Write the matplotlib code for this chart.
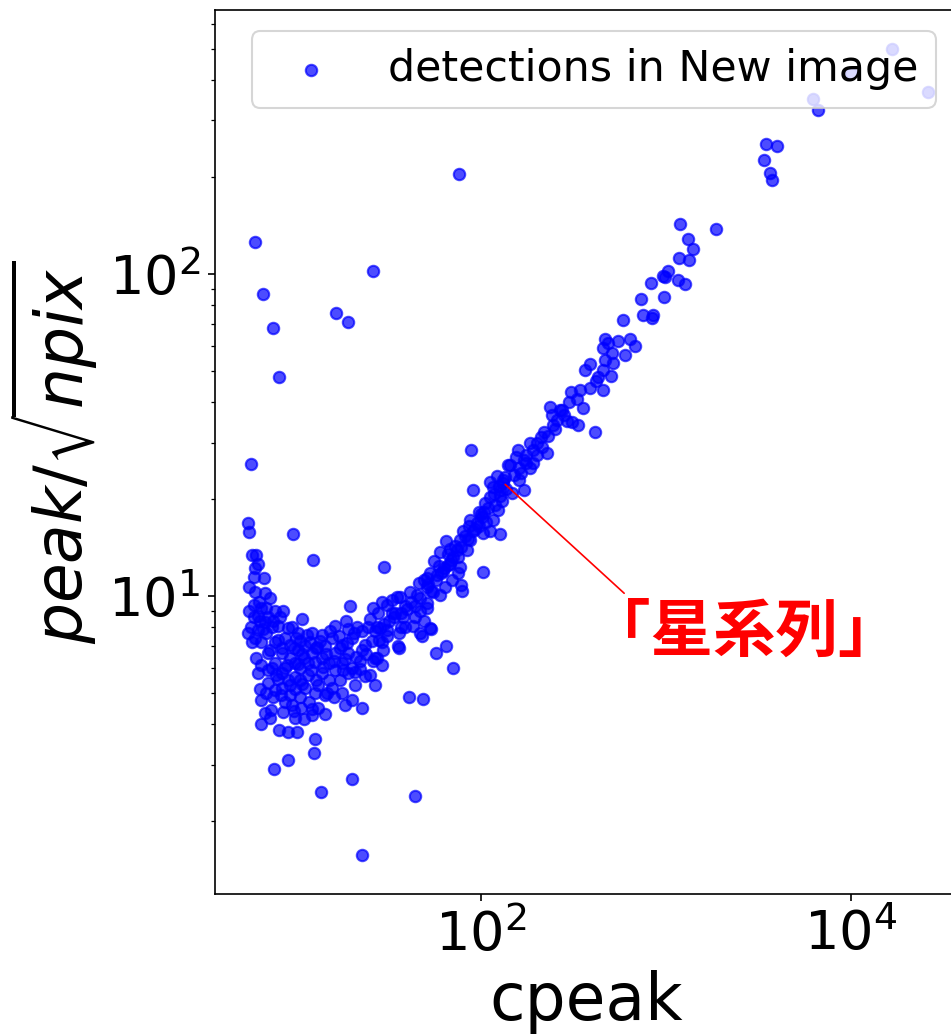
import matplotlib
matplotlib.use("Agg")
import matplotlib.pyplot as plt
from matplotlib.ticker import FixedLocator, NullLocator

# ---- data (cpeak, peak/sqrt(npix)) ----
outl_x = [6.0, 6.6, 7.5, 8.1, 16.5, 19, 26, 76, 5.7, 88, 90.5, 30, 9.6, 12.4, 5.5, 5.6]
outl_y = [126, 87, 68, 48, 76, 71, 102, 205, 25.7, 28.4, 21.3, 12.3, 15.6, 13.0, 16.9, 15.8]

low_x = [5.8, 6.1, 6.2, 6.0, 5.9, 6.7, 5.6, 6.0, 6.8, 7.2, 5.9, 6.5, 7.7, 8.5, 10.8, 7.1, 6.4, 5.7, 7.4,
         12.2, 16.3, 18.6, 10.0, 15.7, 8.7, 6.0, 5.8, 6.5, 7.7, 11.2, 13.0, 14.4, 17.7, 20.2, 22.7, 25,
         26, 29, 27.8, 24.5,
         6.1, 7.1, 8.4, 10.3, 12.2, 13.8, 16.3, 19.1, 22.7, 26.8, 29, 9.9, 11.6, 17.7, 20,
         6.2, 7.1, 8.4, 9.9, 11.6, 13.8, 16.3, 19.1, 7.1, 8.4, 9.9, 11.2, 12.7, 15.7, 17.7, 20.9,
         6.5, 7.5, 8.7, 9.5, 10.7, 12.2, 13.2, 16, 20.2, 22.7, 8.5, 9.9, 12.2, 7.2, 6.5, 8.1, 9.1,
         10.1, 12.7, 12.5, 7.6, 9.1, 13.7, 20.2, 44, 22.7, 41, 48.6,
         5.6, 6.2, 6.8, 6.2, 6.9, 8.0, 9.0, 8.0, 9.3, 10.5, 11.9, 13.5, 7.2, 9.3, 11, 12.7, 15, 6.5,
         7.7, 8.7, 10.5, 12.9, 15, 17.3, 8.0, 9.0, 10.5, 6.4, 7.7, 9.3, 10.5, 14.4, 18.4, 14.4, 20.9,
         23.7, 22.2, 25.2, 26.8, 26, 22.2, 23.7, 25.6, 31, 28.5, 26.8, 21.5, 20.5, 18.8, 17.3, 29, 36,
         35.5, 19.6,
         6.3, 6.9, 7.5, 8.2, 9.5, 10.2, 11.5, 13.8, 15.3, 17, 19, 8.4, 9.7, 10.8, 12.8, 14.6, 16, 18.5,
         21, 24, 7.4, 8.9, 10.2, 12, 14, 18, 7.8, 9.3, 10.8, 13.2, 14.8, 6.9, 8.3, 11.7, 7.3, 9.7, 11,
         6.8, 5.9, 5.5, 6.6]
low_y = [13.4, 13.4, 12.6, 12.2, 11.5, 11.4, 10.7, 10.3, 10.2, 9.9, 9.4, 9.2, 9.0, 9.0, 8.5, 8.6, 8.4, 8.0, 8.0,
         7.7, 8.1, 8.4, 7.4, 7.4, 7.4, 7.4, 7.2, 7.2, 7.2, 7.0, 6.95, 7.0, 7.05, 7.4, 7.8, 8.5,
         9.2, 9.6, 8.85, 8.0,
         6.45, 6.65, 6.65, 6.8, 6.65, 6.45, 6.65, 6.65, 6.8, 6.45, 7.2, 6.2, 6.2, 6.2, 6.0,
         5.77, 5.9, 5.77, 5.6, 5.68, 5.77, 5.9, 5.77, 5.36, 5.2, 5.16, 5.2, 5.0, 5.2, 5.0, 5.3,
         4.76, 4.86, 4.7, 4.6, 4.5, 4.47, 4.5, 4.86, 4.76, 4.5, 4.36, 4.2, 4.27, 4.2, 4.0, 3.83, 3.8,
         3.8, 3.6, 3.25, 2.9, 3.1, 2.47, 2.7, 2.4, 1.57, 4.86, 4.8,
         9.0, 8.7, 8.3, 7.85, 7.7, 8.1, 7.95, 7.3, 7.05, 7.25, 7.2, 7.25, 6.8, 6.45, 6.45, 6.25, 6.2, 6.1,
         6.2, 5.97, 5.97, 5.5, 5.5, 5.5, 5.55, 5.5, 5.5, 5.16, 5.1, 4.93, 4.86, 4.93, 4.6, 4.3, 5.8,
         5.64, 5.95, 5.7, 5.3, 6.3, 6.3, 7.05, 7.25, 7.5, 7.95, 7.8, 8.0, 7.7, 7.15, 6.9, 6.1, 6.9,
         7.0, 9.35,
         9.6, 9.2, 8.4, 8.6, 8.0, 7.7, 7.6, 7.6, 7.8, 7.5, 7.9, 6.9, 6.9, 6.6, 6.9, 6.6, 6.3, 6.4,
         6.5, 6.6, 6.0, 6.1, 6.15, 5.9, 6.05, 5.9, 5.7, 5.3, 5.35, 5.3, 5.0, 5.0, 4.95, 4.7, 4.45, 4.4, 4.15,
         4.35, 8.6, 7.7, 7.9]

mid_x = [36, 39, 44, 47, 51, 44, 39, 36.5, 35, 31, 54, 57, 61, 66, 64, 70, 75, 51, 46, 41.5, 43, 48, 54,
         65, 57, 71, 78, 79, 103, 33, 32, 37, 31, 27.5, 28, 29.6, 27.5, 47, 55, 51, 49, 53, 47, 38, 51,
         49, 53, 56, 62, 60, 68, 71, 74, 77, 84, 77, 87, 65, 80, 91, 103, 112, 87, 95, 107, 116, 101,
         109, 123, 112, 130, 116, 131, 122, 140, 127, 66, 75, 85, 33, 60, 34.3,
         97, 105, 118, 125, 135, 112, 100, 93, 82, 72, 69, 63, 58, 52, 45, 42, 40, 37, 34, 30, 59, 68,
         78, 86, 98, 104, 119, 126, 137]
mid_y = [7.7, 8.0, 8.6, 9.0, 9.5, 9.3, 9.3, 9.95, 9.95, 9.4, 10.4, 11.2, 11.8, 12.5, 10.7, 11.2, 11.8, 11.4,
         11.0, 10.3, 8.1, 7.5, 7.9, 7.0, 6.65, 6.0, 10.8, 10.4, 11.9, 8.85, 8.4, 8.0, 7.85, 8.0, 7.3, 6.8,
         6.45, 9.9, 10.3, 9.2, 8.4, 7.95, 7.7, 8.6, 10.7, 11.2, 11.8, 12.9, 12.0, 13.7, 12.6, 13.2, 13.9,
         12.3, 13.9, 14.9, 14.9, 14.8, 16.0, 16.0, 15.7, 16.0, 17.2, 16.9, 17.0, 17.2, 17.6, 18.8, 18.5,
         20.3, 19.8, 21.8, 22.4, 23.7, 25.5, 15.6, 13.5, 13.2, 15.1, 9.75, 10.1, 8.9,
         18.2, 19.5, 20.8, 22.0, 23.5, 22.6, 18.0, 16.2, 15.4, 14.3, 13.0, 12.2, 11.6, 10.9, 10.1, 9.6,
         9.1, 8.9, 8.6, 8.2, 12.4, 14.0, 14.2, 16.5, 16.5, 18.3, 19.2, 20.5, 21.6]

up_x = [127, 147, 170, 160, 131, 144, 160, 184, 154, 170, 190, 158, 175, 190, 227, 185, 200, 210, 220,
        245, 258, 242, 236, 275, 310, 335, 355, 305, 345, 390, 420, 455, 365, 390, 455, 505, 470, 520,
        455, 510, 600, 470, 485, 550, 640, 680, 415, 290, 268,
        150, 165, 175, 200, 215, 230, 250, 280, 300, 330, 430,
        585, 730, 750, 850, 840, 830, 980, 960, 990, 1020, 1160, 1270, 1180, 1330, 1400, 1310, 1190, 1860]
up_y = [21.3, 20.9, 21.3, 22.9, 22.9, 25.5, 25, 25, 27, 26.5, 25.9, 28.4, 27.4, 28.4, 27.8, 30, 29.9, 31.2,
        32.4, 34, 35.2, 36.6, 38.6, 37.8, 34.7, 34, 38.4, 43, 43.6, 44.3, 46.6, 43.6, 50.3, 52.5, 50.3,
        48.2, 54, 53, 59, 57, 56, 63, 61, 62, 63, 60, 32.4, 35, 37.8,
        23.8, 24.2, 26.0, 27.5, 29.0, 31.5, 33.0, 36.5, 40.0, 41.0, 48.0,
        72, 84, 74.5, 74.5, 73, 94, 85, 99, 98, 102, 96, 93, 112, 111, 120, 129, 143, 138]

top_x = [3470, 3980, 3380, 3630, 3750, 6200, 6600, 16700, 26000, 10000]
top_y = [253, 250, 227, 206, 196, 349, 323, 500, 367, 421]

cpeak = outl_x + low_x + mid_x + up_x + top_x
snr = outl_y + low_y + mid_y + up_y + top_y

legend_label = "detections in New image"
annot_text = "「星系列」"
annot_xy = (130, 22.7)
annot_xytext = (379, 9.72)

W, H, DPI = 951, 1036, 150
fig = plt.figure(figsize=(W / DPI, H / DPI), dpi=DPI)
ax = fig.add_axes([215 / W, (H - 894) / H, (957 - 215) / W, (894 - 10) / H])

ax.scatter(cpeak, snr, s=30, c="b", alpha=0.7, label=legend_label)
ax.set_xscale("log")
ax.set_yscale("log")
ax.set_xlim(3.65, 3.74e4)
ax.set_ylim(1.19, 661)
ax.xaxis.set_major_locator(FixedLocator([1e2, 1e4]))
ax.xaxis.set_minor_locator(NullLocator())
ax.tick_params(axis="both", which="major", labelsize=26)

ax.set_xlabel("cpeak", fontsize=31)
ax.set_ylabel(r"$peak/\sqrt{npix}$", fontsize=31)

ax.legend(loc="upper right", fontsize=20.5)

ax.annotate(annot_text, xy=annot_xy, xytext=annot_xytext, xycoords="data", textcoords="data",
            ha="left", va="top", color="red", fontsize=30, fontweight="bold",
            family=["Noto Sans CJK JP", "DejaVu Sans"],
            arrowprops=dict(arrowstyle="-", color="red", lw=0.8, relpos=(0.14, 1.0)))

fig.savefig("out.png", dpi=DPI)
